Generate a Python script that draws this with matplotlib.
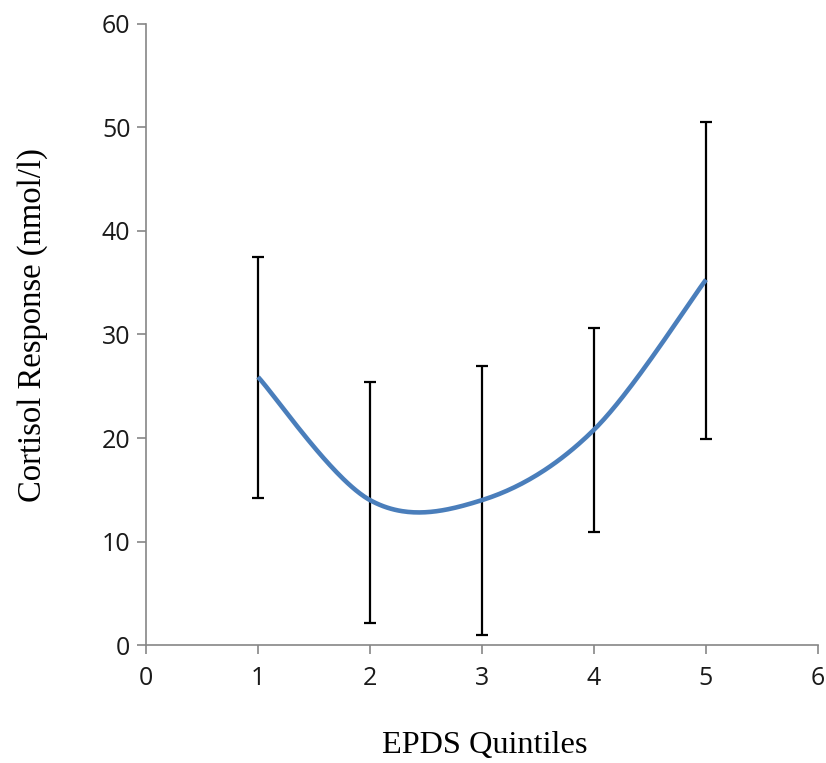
import numpy as np
import matplotlib
matplotlib.use("Agg")
import matplotlib.pyplot as plt

# values
quintiles = [1, 2, 3, 4, 5]
cortisol = [25.9, 14.0, 14.0, 20.8, 35.3]
err_low = [14.2, 2.1, 1.0, 10.9, 19.9]
err_high = [37.5, 25.4, 27.0, 30.6, 50.5]


def smooth_line(xs, ys, n=60):
	'''
	Excel-style smoothed line: Catmull-Rom segments as cubic Bezier.
	'''
	pts = np.column_stack([xs, ys]).astype(float)
	padded = np.vstack([pts[0], pts, pts[-1]])
	out = []
	t = np.linspace(0, 1, n)[:, None]
	for i in range(len(pts) - 1):
		p0, p1, p2, p3 = padded[i], padded[i + 1], padded[i + 2], padded[i + 3]
		c1 = p1 + (p2 - p0) / 6.0
		c2 = p2 - (p3 - p1) / 6.0
		seg = ((1 - t) ** 3) * p1 + 3 * ((1 - t) ** 2) * t * c1 + 3 * (1 - t) * t ** 2 * c2 + t ** 3 * p2
		out.append(seg)
	out = np.vstack(out)
	return out[:, 0], out[:, 1]


fig = plt.figure(figsize=(8.26, 7.63), dpi=100)
ax = fig.add_axes([0.1768, 0.1546, 0.8135, 0.814])

y = np.array(cortisol)
yerr = [y - np.array(err_low), np.array(err_high) - y]
ax.errorbar(quintiles, cortisol, yerr=yerr, fmt='none', ecolor='black',
	elinewidth=1.6, capsize=4.5, capthick=1.6, zorder=2)

sx, sy = smooth_line(quintiles, cortisol)
ax.plot(sx, sy, color='#4A7EBB', lw=3.3, solid_capstyle='butt', zorder=3)

ax.set_xlim(0, 6)
ax.set_ylim(0, 60)
ax.set_xticks(range(0, 7))
ax.set_yticks(range(0, 61, 10))

for side in ['top', 'right']:
	ax.spines[side].set_visible(False)
for side in ['left', 'bottom']:
	ax.spines[side].set_color('#868686')
	ax.spines[side].set_linewidth(1.2)

ax.tick_params(axis='both', direction='out', length=6.2, width=1.2, color='#868686',
	labelsize=18, labelcolor='#1a1a1a')
ax.tick_params(axis='x', pad=9)
ax.tick_params(axis='y', pad=5)
for lab in ax.get_xticklabels() + ax.get_yticklabels():
	lab.set_fontfamily('Open Sans')

fig.text(0.587, 0.013, 'EPDS Quintiles', family='Liberation Serif', fontsize=23.3,
	ha='center', va='baseline')
fig.text(0.039, 0.574, 'Cortisol Response (nmol/l)', family='Liberation Serif', fontsize=23.5,
	ha='center', va='center', rotation=90)

fig.savefig('out.png', dpi=100, facecolor='white')
